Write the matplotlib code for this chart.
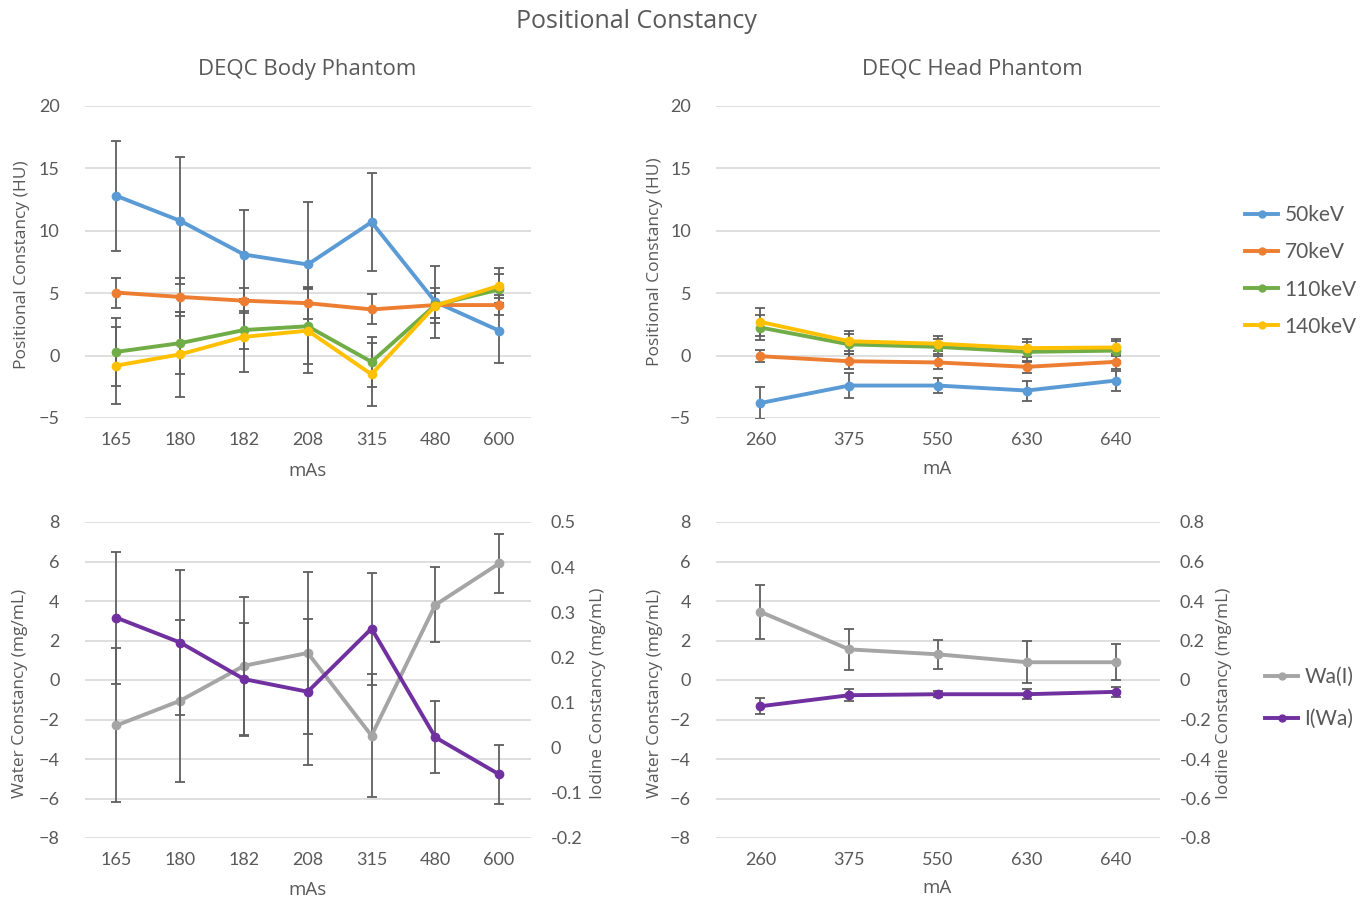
import numpy as np
import matplotlib
matplotlib.use("Agg")
import matplotlib.pyplot as plt
from matplotlib.lines import Line2D

plt.rcParams['font.family'] = ['Lato', 'DejaVu Sans']

# categories
body_mas = ['165', '180', '182', '208', '315', '480', '600']
head_ma = ['260', '375', '550', '630', '640']

# positional constancy (HU), body phantom
body_50 = [12.8, 10.8, 8.1, 7.3, 10.7, 4.3, 2.0]
body_50_err = [4.4, 5.1, 3.6, 5.0, 3.9, 2.9, 2.6]
body_70 = [5.05, 4.7, 4.4, 4.2, 3.7, 4.05, 4.05]
body_70_err = [1.2, 1.5, 1.0, 1.3, 1.2, 1.0, 0.8]
body_110 = [0.3, 1.0, 2.05, 2.35, -0.5, 4.05, 5.3]
body_110_err = [2.7, 2.5, 1.5, 3.0, 2.0, 1.0, 1.2]
body_140 = [-0.8, 0.1, 1.5, 2.0, -1.5, 4.0, 5.6]
body_140_err = [3.1, 3.4, 2.8, 3.4, 2.5, 1.4, 1.4]

# positional constancy (HU), head phantom
head_50 = [-3.8, -2.4, -2.4, -2.8, -2.0]
head_50_err = [1.3, 1.0, 0.6, 0.8, 0.8]
head_70 = [-0.05, -0.45, -0.55, -0.9, -0.5]
head_70_err = [0.5, 0.6, 0.5, 0.5, 0.6]
head_110 = [2.25, 0.9, 0.7, 0.3, 0.4]
head_110_err = [1.0, 0.8, 0.6, 0.8, 0.8]
head_140 = [2.7, 1.15, 0.95, 0.6, 0.65]
head_140_err = [1.1, 0.8, 0.6, 0.7, 0.7]

# material constancy (mg/mL)
body_wa = [-2.3, -1.05, 0.72, 1.37, -2.82, 3.8, 5.9]
body_wa_err = [3.9, 4.1, 3.5, 4.1, 3.1, 1.9, 1.5]
body_i = [0.288, 0.233, 0.152, 0.124, 0.264, 0.023, -0.059]
body_i_err = [0.146, 0.16, 0.125, 0.162, 0.124, 0.08, 0.065]
head_wa = [3.45, 1.55, 1.3, 0.9, 0.9]
head_wa_err = [1.35, 1.05, 0.75, 1.05, 0.9]
head_i = [-0.133, -0.077, -0.072, -0.072, -0.06]
head_i_err = [0.04, 0.03, 0.015, 0.025, 0.025]

kev_labels = ['50keV', '70keV', '110keV', '140keV']
kev_colors = ['#5B9BD5', '#ED7D31', '#70AD47', '#FFC000']
gray = '#A5A5A5'
purple = '#7030A0'
err_col = '#5f5f5f'
txt_col = '#595959'
grid_col = '#D9D9D9'

W, H = 1367, 901
fig = plt.figure(figsize=(W / 100, H / 100), dpi=100)


def px_axes(x0, y0, x1, y1):
    return fig.add_axes([x0 / W, 1 - y1 / H, (x1 - x0) / W, (y1 - y0) / H])


def style(ax, cats, grid=True):
    for s in ax.spines.values():
        s.set_visible(False)
    ax.tick_params(length=0, colors=txt_col, labelsize=13)
    ax.set_xticks(range(len(cats)))
    ax.set_xticklabels(cats)
    ax.set_xlim(-0.5, len(cats) - 0.5)
    ax.tick_params(axis='y', pad=18)
    ax.tick_params(axis='x', pad=10)
    if grid:
        ax.grid(axis='y', color=grid_col, lw=1.2)
        ax.set_axisbelow(True)


def series(ax, y, e, c, z=3):
    x = np.arange(len(y))
    ax.errorbar(x, y, yerr=e, fmt='none', ecolor=err_col, elinewidth=1.3,
                capsize=3.5, capthick=1.3, zorder=z)
    ax.plot(x, y, color=c, lw=2.8, marker='o', ms=6, zorder=z + 1)


def right_axis(ax, lo, hi, ticks, labels):
    axb = ax.twinx()
    for s in axb.spines.values():
        s.set_visible(False)
    axb.set_ylim(lo, hi)
    axb.set_yticks(ticks)
    axb.set_yticklabels(labels)
    axb.tick_params(length=0, colors=txt_col, labelsize=13, pad=14)
    return axb


# top left
ax1 = px_axes(84.5, 106, 531, 418)
style(ax1, body_mas)
for y, e, c in zip([body_50, body_70, body_110, body_140],
                   [body_50_err, body_70_err, body_110_err, body_140_err], kev_colors):
    series(ax1, y, e, c)
ax1.set_ylim(-5, 20)
ax1.set_yticks(range(-5, 21, 5))

# top right
ax2 = px_axes(716, 106, 1160, 418)
style(ax2, head_ma)
for y, e, c in zip([head_50, head_70, head_110, head_140],
                   [head_50_err, head_70_err, head_110_err, head_140_err], kev_colors):
    series(ax2, y, e, c)
ax2.set_ylim(-5, 20)
ax2.set_yticks(range(-5, 21, 5))

# bottom left
ax3 = px_axes(84.5, 522, 531, 838)
style(ax3, body_mas)
series(ax3, body_wa, body_wa_err, gray)
ax3.set_ylim(-8, 8)
ax3.set_yticks(range(-8, 9, 2))
ax3b = right_axis(ax3, -0.2, 0.5, np.round(np.arange(-0.2, 0.51, 0.1), 1),
                  ['-0.2', '-0.1', '0', '0.1', '0.2', '0.3', '0.4', '0.5'])
series(ax3b, body_i, body_i_err, purple)

# bottom right
ax4 = px_axes(716, 522, 1160, 838)
style(ax4, head_ma)
series(ax4, head_wa, head_wa_err, gray)
ax4.set_ylim(-8, 8)
ax4.set_yticks(range(-8, 9, 2))
ax4b = right_axis(ax4, -0.8, 0.8, np.round(np.arange(-0.8, 0.81, 0.2), 1),
                  ['-0.8', '-0.6', '-0.4', '-0.2', '0', '0.2', '0.4', '0.6', '0.8'])
series(ax4b, head_i, head_i_err, purple)

# texts
tf = ['Open Sans', 'DejaVu Sans']
fig.text(636 / W, 1 - 21 / H, 'Positional Constancy', ha='center', va='center',
         fontsize=18, color=txt_col, family=tf)
fig.text(307 / W, 1 - 69 / H, 'DEQC Body Phantom', ha='center', va='center',
         fontsize=16, color=txt_col, family=tf)
fig.text(972 / W, 1 - 69 / H, 'DEQC Head Phantom', ha='center', va='center',
         fontsize=16, color=txt_col, family=tf)

yl = dict(rotation=90, ha='center', va='center', fontsize=12.5, color=txt_col, family=tf)
fig.text(22 / W, 1 - 265 / H, 'Positional Constancy (HU)', **yl)
fig.text(655 / W, 1 - 262 / H, 'Positional Constancy (HU)', **yl)
fig.text(20 / W, 1 - 693 / H, 'Water Constancy (mg/mL)', **yl)
fig.text(598 / W, 1 - 693 / H, 'Iodine Constancy (mg/mL)', **yl)
fig.text(655 / W, 1 - 693 / H, 'Water Constancy (mg/mL)', **yl)
fig.text(1224 / W, 1 - 693 / H, 'Iodine Constancy (mg/mL)', **yl)

xl = dict(ha='center', va='center', fontsize=13.5, color=txt_col, family=tf)
fig.text(307 / W, 1 - 471 / H, 'mAs', **xl)
fig.text(937 / W, 1 - 469 / H, 'mA', **xl)
fig.text(307 / W, 1 - 890 / H, 'mAs', **xl)
fig.text(937 / W, 1 - 888 / H, 'mA', **xl)

# legends
leg_kw = dict(loc='center left', frameon=False, fontsize=15, handlelength=1.6,
              handletextpad=0.3, borderpad=0, borderaxespad=0)
h1 = [Line2D([], [], color=c, lw=2.8, marker='o', ms=5) for c in kev_colors]
leg1 = fig.legend(h1, kev_labels, bbox_to_anchor=(1245 / W, 1 - 271 / H),
                  labelspacing=0.82, **leg_kw)
for t in leg1.get_texts():
    t.set_color(txt_col)
h2 = [Line2D([], [], color=c, lw=2.8, marker='o', ms=5) for c in [gray, purple]]
leg2 = fig.legend(h2, ['Wa(I)', 'I(Wa)'], bbox_to_anchor=(1265 / W, 1 - 698 / H),
                  labelspacing=1.05, **leg_kw)
for t in leg2.get_texts():
    t.set_color(txt_col)

fig.savefig('out.png', dpi=100)
